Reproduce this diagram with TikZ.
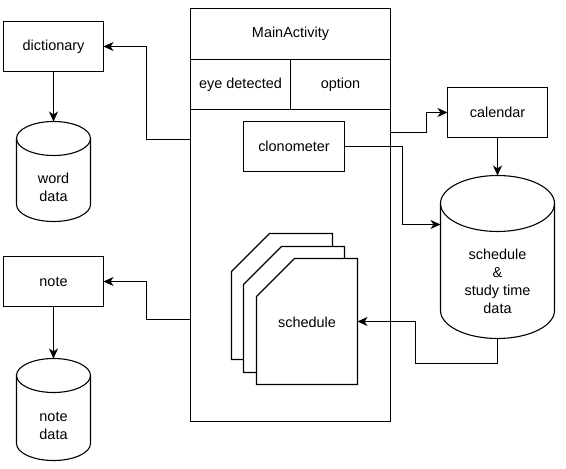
\documentclass[tikz,border=0pt]{standalone}
\usepackage{fontspec}
\setmainfont{Liberation Sans}
\usetikzlibrary{arrows.meta,calc}
\begin{document}
\begin{tikzpicture}[x=1bp,y=-1bp,
  every node/.style={font=\fontsize{14.5pt}{18pt}\selectfont, inner sep=0pt},
  box/.style={draw, line width=1.1bp, rectangle, anchor=north west, outer sep=0pt},
  txt/.style={align=center},
  ln/.style={line width=1.1bp},
  arr/.style={ln, -{Stealth[length=10bp,width=9bp,inset=3bp]}},
  shp/.style={ln, fill=white, line join=miter}
]
\useasboundingbox (-0.5,-0.5) rectangle (565.5,468.5);
\fill[white] (-0.5,-0.5) rectangle (565.5,468.5);

% main activity box
\node[box, minimum width=200bp, minimum height=413bp] (main) at (190,8) {};
\node[box, minimum width=200bp, minimum height=51bp] (hdr) at (190,8) {MainActivity};
\node[box, minimum width=100bp, minimum height=50bp] (eye) at (190,59) {eye detected};
\node[box, minimum width=100bp, minimum height=50bp] (opt) at (290,59) {option};
\node[box, minimum width=101bp, minimum height=50bp] (clono) at (243,121) {clonometer};

% side boxes
\node[box, minimum width=100bp, minimum height=50bp] (dict) at (3,21) {dictionary};
\node[box, minimum width=100bp, minimum height=50bp] (note) at (3,256) {note};
\node[box, minimum width=100bp, minimum height=50bp] (cal) at (447,87) {calendar};

% cylinders
\draw[shp] (16,138) -- (16,204) arc[start angle=180,end angle=360,x radius=37bp,y radius=17bp]
  -- (90,138) arc[start angle=0,end angle=180,x radius=37bp,y radius=17bp] -- cycle;
\draw[ln] (16,138) arc[start angle=180,end angle=360,x radius=37bp,y radius=17bp];
\node[txt, minimum width=74bp, minimum height=100bp, anchor=north west, outer sep=0pt] (wd) at (16,121) {};
\node[txt] (wdt) at (53,187) {word\\data};

\draw[shp] (16,375) -- (16,443) arc[start angle=180,end angle=360,x radius=37bp,y radius=17bp]
  -- (90,375) arc[start angle=0,end angle=180,x radius=37bp,y radius=17bp] -- cycle;
\draw[ln] (16,375) arc[start angle=180,end angle=360,x radius=37bp,y radius=17bp];
\node[txt, minimum width=74bp, minimum height=102bp, anchor=north west, outer sep=0pt] (nd) at (16,358) {};
\node[txt] (ndt) at (53,425) {note\\data};

\draw[shp] (440,203) -- (440,310) arc[start angle=180,end angle=360,x radius=57bp,y radius=28bp]
  -- (554,203) arc[start angle=0,end angle=180,x radius=57bp,y radius=28bp] -- cycle;
\draw[ln] (440,203) arc[start angle=180,end angle=360,x radius=57bp,y radius=28bp];
\node[txt, minimum width=114bp, minimum height=163bp, anchor=north west, outer sep=0pt] (sc) at (440,175) {};
\node[txt] (sct) at (497,281) {schedule\\\&\\study time\\data};

% schedule document stack
\draw[shp] (231,271) -- (269,233) -- (332,233) -- (332,359) -- (231,359) -- cycle;
\draw[shp] (243,284) -- (281,246) -- (344,246) -- (344,372) -- (243,372) -- cycle;
\draw[shp] (256,296) -- (294,258) -- (357,258) -- (357,384) -- (256,384) -- cycle;
\node[minimum width=101bp, minimum height=126bp, anchor=north west, outer sep=0pt] (sched) at (256,258) {};
\node (schedt) at (306.5,322) {schedule};

% connectors
\coordinate (mdict) at (190,139);
\coordinate (mnote) at (190,319);
\coordinate (mcal) at (390,132);
\coordinate (scin) at (440,224);

\draw[arr] (mdict) -- ++(-44,0) |- (dict.east);
\draw[arr] (mnote) -- ++(-44,0) |- (note.east);
\draw[arr] (dict.south) -- (dict.south |- wd.north);
\draw[arr] (note.south) -- (note.south |- nd.north);
\draw[arr] (mcal) -- ++(36,0) |- (cal.west);
\draw[arr] (cal.south) -- (cal.south |- sc.north);
\draw[arr] (clono.east) -- ++(58,0) |- (scin);
\draw[arr] (sc.south) -- ++(0,25) -| ([xshift=58bp]sched.east) -- (sched.east);
\end{tikzpicture}
\end{document}
